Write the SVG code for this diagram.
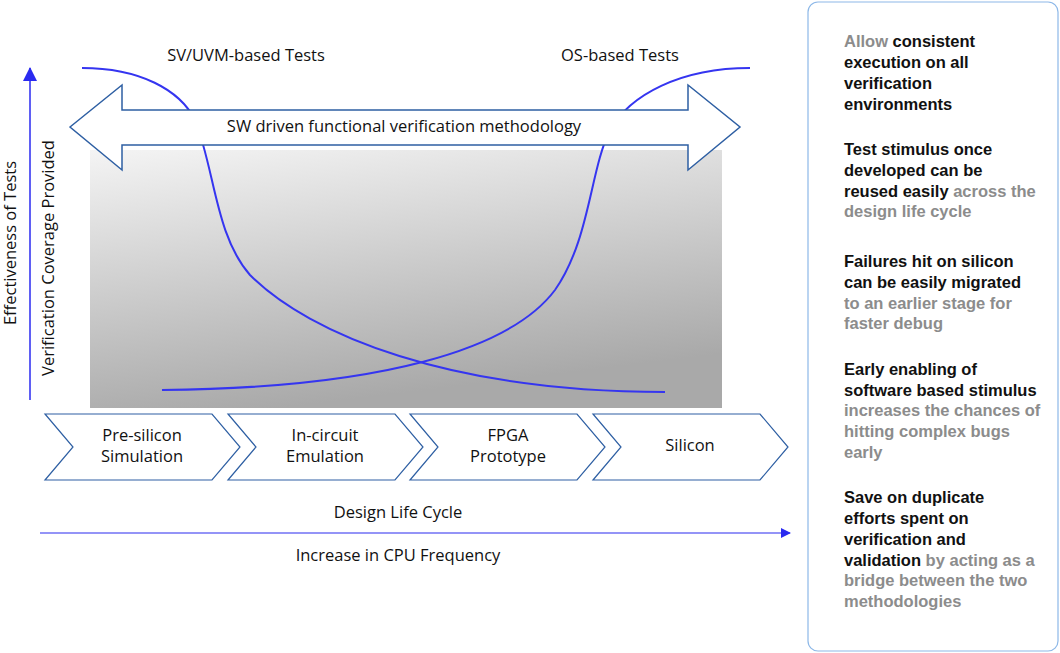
<svg xmlns="http://www.w3.org/2000/svg" width="1060" height="653" viewBox="0 0 1060 653">
<style>
text{font-family:"Liberation Sans",Arial,sans-serif;fill:#111}
.lab{font-size:16.5px;font-family:"Open Sans","Liberation Sans",sans-serif}
.chev{fill:#fff;stroke:#2e5fa3;stroke-width:1.2}
.crv{fill:none;stroke:#3535f0;stroke-width:2}
.p{font-size:16.5px;font-weight:bold}
.g{fill:#8c8c8c}
</style>
<defs>
<linearGradient id="gr" x1="0" y1="0" x2="0.3" y2="1">
<stop offset="0" stop-color="#f4f4f4"/><stop offset="1" stop-color="#a9a9a9"/>
</linearGradient>
<marker id="ah" markerWidth="10" markerHeight="10" refX="9" refY="5" orient="auto" markerUnits="userSpaceOnUse"><path d="M0,0L10,5L0,10Z" fill="#2a2af0"/></marker>
<marker id="av" markerWidth="14" markerHeight="16" refX="13" refY="7" orient="auto" markerUnits="userSpaceOnUse"><path d="M0,0L14,7L0,14Z" fill="#2a2af0"/></marker>
</defs>
<rect x="90" y="150" width="632" height="258" fill="url(#gr)"/>
<g id="connectors">
<path class="crv" d="M82,68 C140,68 180,90 195,120 C215,170 215,235 250,275 C310,335 450,392 665,392"/>
<path class="crv" d="M162,390 C380,388 510,350 555,290 C590,240 590,170 610,130 C630,95 680,68 750,68"/>
<line x1="30" y1="400" x2="30" y2="68" stroke="#2a2af0" stroke-width="1.5" marker-end="url(#av)"/>
<line x1="40" y1="533" x2="790" y2="533" stroke="#2a2af0" stroke-width="1.2" marker-end="url(#ah)"/>
</g>
<g id="arrow">
<path d="M70,127 L122,85 L122,110 L688,110 L688,85 L740,127 L688,170 L688,145 L122,145 L122,170 Z" fill="#fff" stroke="#2e5fa3" stroke-width="1.5"/>
<text class="lab" x="404" y="132" text-anchor="middle">SW driven functional verification methodology</text>
</g>
<text class="lab" x="246" y="61" text-anchor="middle">SV/UVM-based Tests</text>
<text class="lab" x="620" y="61" text-anchor="middle">OS-based Tests</text>
<text class="lab" transform="translate(16,243) rotate(-90)" text-anchor="middle">Effectiveness of Tests</text>
<text class="lab" transform="translate(54,258) rotate(-90)" text-anchor="middle">Verification Coverage Provided</text>
<g id="n1"><path class="chev" d="M45,414 L212,414 L240,447 L212,480 L45,480 L73,447 Z"/><text class="lab" x="142" y="441" text-anchor="middle">Pre-silicon</text><text class="lab" x="142" y="462" text-anchor="middle">Simulation</text></g>
<g id="n2"><path class="chev" d="M228,414 L395,414 L423,447 L395,480 L228,480 L256,447 Z"/><text class="lab" x="325" y="441" text-anchor="middle">In-circuit</text><text class="lab" x="325" y="462" text-anchor="middle">Emulation</text></g>
<g id="n3"><path class="chev" d="M410,414 L577,414 L605,447 L577,480 L410,480 L438,447 Z"/><text class="lab" x="508" y="441" text-anchor="middle">FPGA</text><text class="lab" x="508" y="462" text-anchor="middle">Prototype</text></g>
<g id="n4"><path class="chev" d="M593,414 L760,414 L788,447 L760,480 L593,480 L621,447 Z"/><text class="lab" x="690" y="451" text-anchor="middle">Silicon</text></g>
<text class="lab" x="398" y="518" text-anchor="middle">Design Life Cycle</text>
<text class="lab" x="398" y="561" text-anchor="middle">Increase in CPU Frequency</text>
<g id="panel">
<rect x="808" y="2" width="250" height="649" rx="10" fill="#fff" stroke="#8db8e8" stroke-width="1.2"/>
<text class="p" x="844" y="47"><tspan class="g">Allow</tspan> consistent</text>
<text class="p" x="844" y="68">execution on all</text>
<text class="p" x="844" y="89">verification</text>
<text class="p" x="844" y="110">environments</text>
<text class="p" x="844" y="155">Test stimulus once</text>
<text class="p" x="844" y="176">developed can be</text>
<text class="p" x="844" y="197">reused easily <tspan class="g">across the</tspan></text>
<text class="p g" x="844" y="217">design life cycle</text>
<text class="p" x="844" y="267">Failures hit on silicon</text>
<text class="p" x="844" y="288">can be easily migrated</text>
<text class="p g" x="844" y="309">to an earlier stage for</text>
<text class="p g" x="844" y="329">faster debug</text>
<text class="p" x="844" y="375">Early enabling of</text>
<text class="p" x="844" y="396">software based stimulus</text>
<text class="p g" x="844" y="416">increases the chances of</text>
<text class="p g" x="844" y="437">hitting complex bugs</text>
<text class="p g" x="844" y="458">early</text>
<text class="p" x="844" y="503">Save on duplicate</text>
<text class="p" x="844" y="524">efforts spent on</text>
<text class="p" x="844" y="545">verification and</text>
<text class="p" x="844" y="566">validation <tspan class="g">by acting as a</tspan></text>
<text class="p g" x="844" y="586">bridge between the two</text>
<text class="p g" x="844" y="607">methodologies</text>
</g>
</svg>
